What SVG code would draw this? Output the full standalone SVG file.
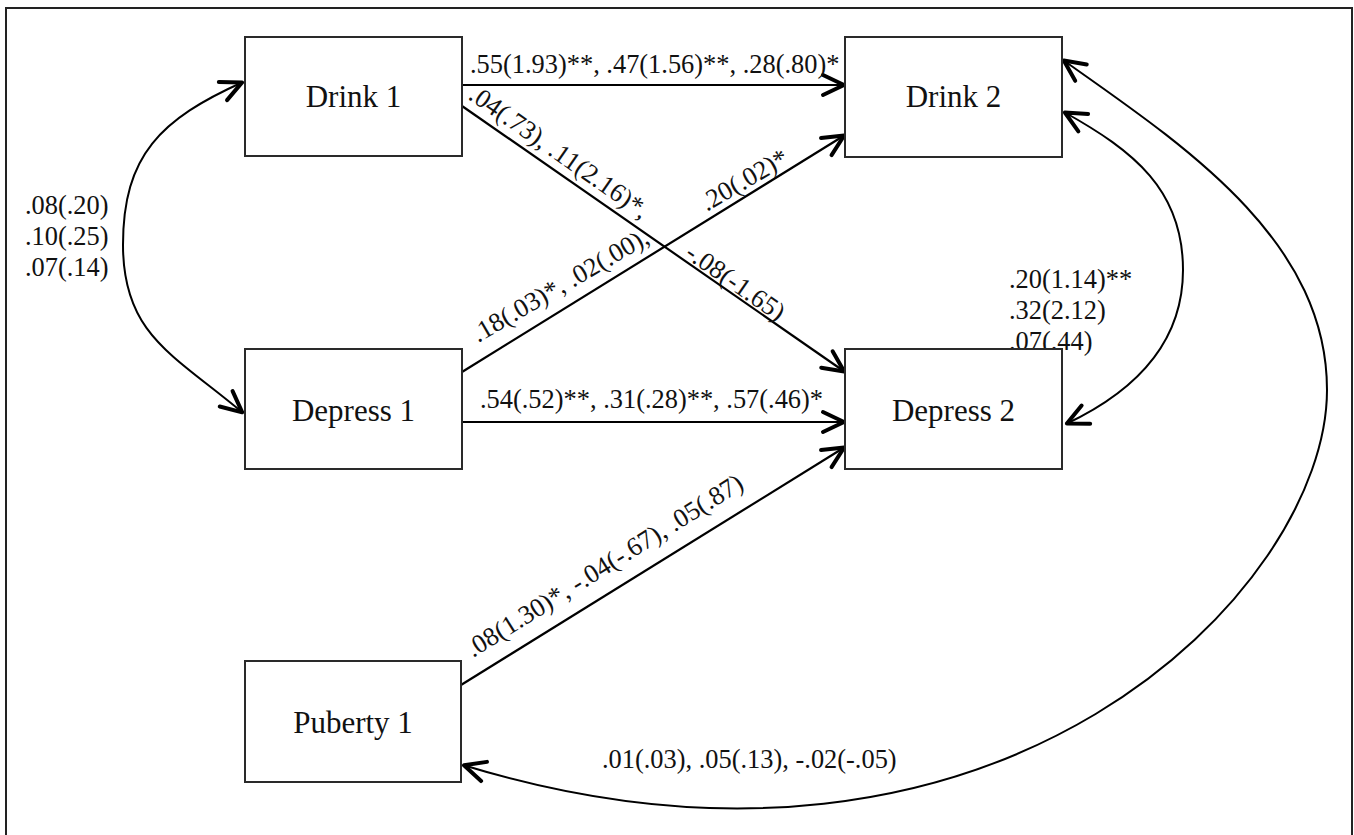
<svg xmlns="http://www.w3.org/2000/svg" width="1354" height="835" viewBox="0 0 1354 835">
<defs>
<style>
.node rect{fill:#fff;stroke:#2a2a2a;stroke-width:2}
.node text{font-family:"Liberation Serif","Times New Roman",serif;font-size:31px;fill:#111;text-anchor:middle}
.lbl{font-family:"Liberation Serif","Times New Roman",serif;font-size:26.4px;fill:#111}
.edge{fill:none;stroke:#000;stroke-width:2.2;marker-end:url(#arr)}
.bi{fill:none;stroke:#000;stroke-width:2;marker-start:url(#arr);marker-end:url(#arr)}
</style>
<marker id="arr" viewBox="-26 -13 28 26" refX="0" refY="0" markerWidth="28" markerHeight="26" markerUnits="userSpaceOnUse" orient="auto-start-reverse">
<path d="M-22,-10 L-1,0 L-22,10" fill="none" stroke="#000" stroke-width="4" stroke-linecap="round" stroke-linejoin="round"/>
</marker>
</defs>
<rect x="0" y="0" width="1354" height="835" fill="#fff"/>
<rect x="6" y="8" width="1346" height="860" fill="none" stroke="#222" stroke-width="2"/>

<g id="connectors">
<path class="edge" d="M462,85 L845,85"/>
<path class="edge" d="M462,106 L845,372"/>
<path class="edge" d="M462,372 L845,135"/>
<path class="edge" d="M462,422 L845,422"/>
<path class="edge" d="M461,685 L845,447"/>
<path class="bi" d="M243,82 C161,119 123,155 123,245 C123,335 174,355 243,413"/>
<path class="bi" d="M1064,112 C1134,151 1183,190 1183,270 C1183,340 1138,390 1066,424"/>
<path class="bi" d="M1063,60 C1185,146 1327,240 1327,390 C1327,590 998,929 463,765"/>
</g>

<g id="edge-labels">
<text class="lbl" x="470" y="73">.55(1.93)**, .47(1.56)**, .28(.80)*</text>
<text class="lbl" x="480" y="408">.54(.52)**, .31(.28)**, .57(.46)*</text>
<text class="lbl" transform="translate(467.3,98.3) rotate(34.9)">.04(.73), .11(2.16)*,</text>
<text class="lbl" transform="translate(683.7,256.5) rotate(34.9)">-.08(-1.65)</text>
<text class="lbl" transform="translate(478,343) rotate(-30.2)">.18(.03)*, .02(.00),</text>
<text class="lbl" transform="translate(706.7,211.7) rotate(-30.2)">.20(.02)*</text>
<text class="lbl" transform="translate(473,658) rotate(-32)">.08(1.30)*, -.04(-.67), .05(.87)</text>
<text class="lbl" x="25" y="214">.08(.20)</text>
<text class="lbl" x="25" y="245">.10(.25)</text>
<text class="lbl" x="25" y="276">.07(.14)</text>
<text class="lbl" x="1009" y="288">.20(1.14)**</text>
<text class="lbl" x="1009" y="319">.32(2.12)</text>
<text class="lbl" x="1009" y="350">.07(.44)</text>
<text class="lbl" x="602" y="768">.01(.03), .05(.13), -.02(-.05)</text>
</g>

<g id="drink1" class="node"><rect x="245" y="37" width="217" height="119"/><text x="353.5" y="107">Drink 1</text></g>
<g id="drink2" class="node"><rect x="845" y="37" width="217" height="120"/><text x="953.5" y="107">Drink 2</text></g>
<g id="depress1" class="node"><rect x="245" y="349" width="217" height="120"/><text x="353.5" y="421">Depress 1</text></g>
<g id="depress2" class="node"><rect x="845" y="349" width="217" height="120"/><text x="953.5" y="421">Depress 2</text></g>
<g id="puberty1" class="node"><rect x="245" y="661" width="216" height="121"/><text x="353" y="733">Puberty 1</text></g>
</svg>
